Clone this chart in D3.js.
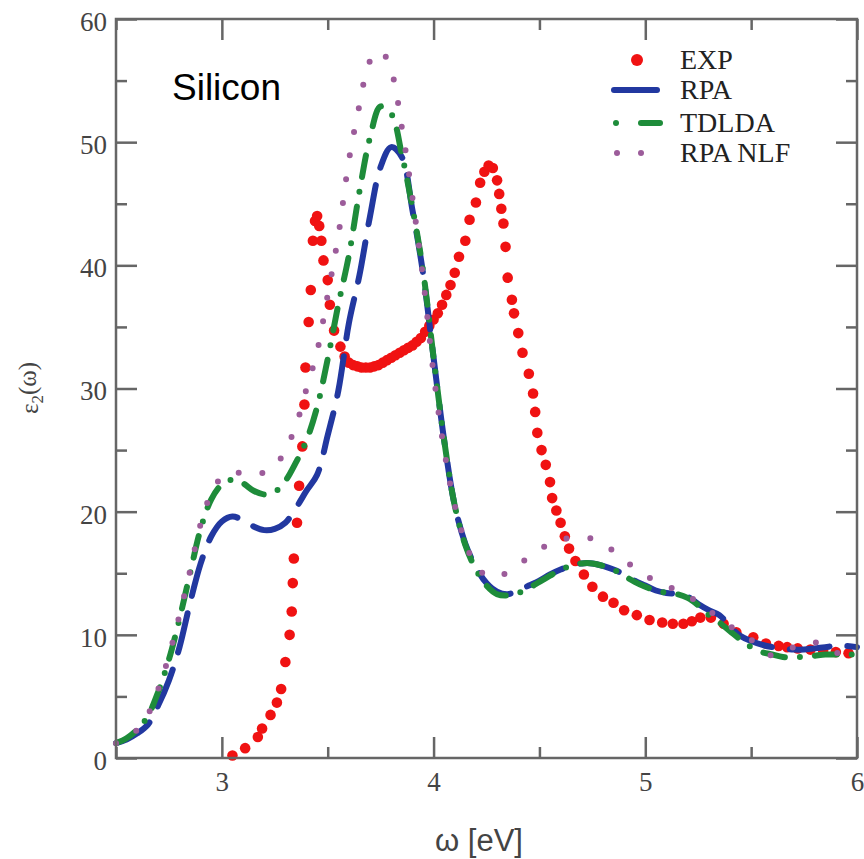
<!DOCTYPE html>
<html>
<head>
<meta charset="utf-8">
<script src="https://cdn.jsdelivr.net/npm/d3@7"></script>
<style>
  body { margin: 0; background: #fff; }
  svg { display: block; }
</style>
</head>
<body>
<svg id="chart" width="864" height="859"></svg>
<script>
// Photon energy grid (eV) shared by the three calculated spectra
const omegaGrid = [
  2.50, 2.55, 2.60, 2.65, 2.70, 2.75, 2.80, 2.85, 2.90, 2.95,
  3.00, 3.05, 3.10, 3.15, 3.20, 3.25, 3.30, 3.35, 3.40, 3.45,
  3.50, 3.55, 3.60, 3.65, 3.70, 3.75, 3.80, 3.85, 3.90, 3.95,
  4.00, 4.05, 4.10, 4.15, 4.20, 4.25, 4.30, 4.35, 4.40, 4.45,
  4.50, 4.55, 4.60, 4.65, 4.70, 4.75, 4.80, 4.85, 4.90, 4.95,
  5.00, 5.05, 5.10, 5.15, 5.20, 5.25, 5.30, 5.35, 5.40, 5.45,
  5.50, 5.55, 5.60, 5.65, 5.70, 5.75, 5.80, 5.85, 5.90, 5.95,
  6.00
];

// RPA with local fields
const rpaEps2 = [
  1.2, 1.5, 2.0, 2.7, 4.3, 6.3, 9.0, 12.6, 15.8, 18.0,
  19.2, 19.6, 19.3, 18.8, 18.5, 18.6, 19.1, 20.3, 21.7, 23.0,
  26.2, 29.8, 35.3, 39.2, 44.0, 48.0, 49.6, 48.8, 44.5, 39.4,
  32.5, 25.8, 20.5, 17.4, 15.5, 14.2, 13.5, 13.3, 13.6, 14.0,
  14.4, 14.9, 15.3, 15.6, 15.8, 15.8, 15.6, 15.3, 14.9, 14.4,
  14.0, 13.6, 13.4, 13.3, 13.1, 12.5, 12.0, 11.6, 10.7, 9.9,
  9.5, 9.2, 9.0, 8.9, 8.8, 8.8, 8.9, 9.0, 9.1, 9.1,
  9.0
];

// TDLDA
const tdldaEps2 = [
  1.2, 1.6, 2.3, 3.4, 5.4, 8.0, 11.3, 15.0, 18.6, 21.0,
  22.2, 22.6, 22.3, 21.7, 21.4, 21.6, 22.5, 24.0, 25.8, 28.5,
  32.4, 36.8, 40.8, 46.0, 50.4, 52.9, 52.3, 49.0, 44.7, 39.6,
  32.5, 25.8, 20.5, 17.3, 15.3, 14.0, 13.3, 13.2, 13.4, 13.8,
  14.3, 14.8, 15.3, 15.6, 15.8, 15.8, 15.6, 15.3, 14.8, 14.3,
  13.9, 13.6, 13.4, 13.3, 13.0, 12.4, 11.6, 11.0, 10.3, 9.6,
  9.0, 8.6, 8.4, 8.2, 8.2, 8.2, 8.3, 8.4, 8.4, 8.4,
  8.4
];

// RPA without local fields
const rpaNlfEps2 = [
  1.2, 1.6, 2.3, 3.5, 5.6, 8.3, 11.6, 15.2, 19.0, 21.5,
  22.8, 23.2, 23.1, 23.0, 23.2, 23.7, 25.0, 27.0, 30.0, 33.0,
  37.6, 42.4, 48.5, 53.0, 56.6, 57.4, 55.8, 51.2, 45.5, 39.0,
  31.2, 25.0, 20.5, 17.5, 15.6, 14.8, 14.7, 15.1, 15.7, 16.3,
  16.9, 17.4, 17.7, 17.9, 17.9, 17.8, 17.4, 16.8, 16.1, 15.4,
  14.8, 14.4, 14.0, 13.6, 13.2, 12.6, 12.0, 11.3, 10.7, 10.2,
  9.6, 8.9, 8.3, 8.6, 9.0, 9.3, 9.4, 9.1, 8.6, 8.1,
  8.0
];

// Measured spectrum: [omega (eV), eps2]
const expPoints = [
  [3.05, 0.2], [3.11, 0.8], [3.17, 1.7], [3.19, 2.4], [3.23, 3.5], [3.26, 4.5],
  [3.28, 5.6], [3.30, 7.8], [3.32, 10.0], [3.33, 11.9], [3.335, 14.2], [3.34, 16.2],
  [3.355, 19.1], [3.365, 22.1], [3.38, 25.3], [3.39, 28.7], [3.395, 31.7], [3.41, 35.4],
  [3.42, 38.0], [3.43, 42.0], [3.44, 43.6], [3.45, 44.0], [3.46, 43.2], [3.47, 42.0],
  [3.48, 40.4], [3.50, 38.8], [3.51, 36.8], [3.53, 34.7], [3.56, 33.4], [3.58, 32.6],
  [3.60, 32.1], [3.62, 31.9], [3.64, 31.8], [3.66, 31.7], [3.68, 31.7], [3.70, 31.7],
  [3.72, 31.8], [3.74, 31.9], [3.76, 32.1], [3.78, 32.3], [3.80, 32.5], [3.82, 32.7],
  [3.84, 32.9], [3.86, 33.1], [3.88, 33.3], [3.90, 33.5], [3.92, 33.8], [3.94, 34.1],
  [3.96, 34.6], [3.98, 35.1], [4.00, 35.6], [4.02, 36.1], [4.04, 36.8], [4.06, 37.6],
  [4.08, 38.4], [4.10, 39.4], [4.12, 40.7], [4.15, 42.0], [4.17, 43.7], [4.20, 45.1],
  [4.22, 46.7], [4.24, 47.6], [4.26, 48.1], [4.28, 47.9], [4.30, 46.9], [4.31, 45.8],
  [4.32, 44.6], [4.33, 43.4], [4.34, 41.5], [4.35, 39.0], [4.37, 37.2], [4.38, 36.1],
  [4.40, 34.5], [4.42, 32.9], [4.45, 31.2], [4.47, 29.6], [4.48, 28.1], [4.49, 26.4],
  [4.51, 25.0], [4.53, 23.8], [4.55, 22.4], [4.56, 21.1], [4.58, 20.1], [4.60, 19.1],
  [4.62, 18.0], [4.64, 17.0], [4.67, 16.0], [4.71, 14.9], [4.75, 13.9], [4.80, 13.1],
  [4.85, 12.6], [4.90, 12.0], [4.96, 11.6], [5.02, 11.2], [5.08, 11.0], [5.13, 10.9],
  [5.18, 10.9], [5.22, 11.1], [5.26, 11.4], [5.31, 11.4], [5.37, 10.9], [5.43, 10.2],
  [5.51, 9.8], [5.57, 9.3], [5.63, 9.1], [5.67, 9.0], [5.72, 8.9], [5.78, 8.8],
  [5.84, 8.7], [5.90, 8.6], [5.96, 8.5]
];

// Axis ticks
const xMajorTicks = [3, 4, 5, 6];
const xMinorTicks = [2.5, 3.5, 4.5, 5.5];
const yMajorTicks = [0, 10, 20, 30, 40, 50, 60];
const yMinorTicks = [5, 15, 25, 35, 45, 55];

// Legend entries
const legendLabels = ["EXP", "RPA", "TDLDA", "RPA NLF"];

const colors = {
  exp: "#f01212",
  rpa: "#2238a0",
  tdlda: "#1e8c3a",
  nlf: "#9c5c9a"
};

const svg = d3.select("#chart");
const W = 864, H = 859;
const plot = { left: 116, top: 19, right: 857, bottom: 758 };

const x = d3.scaleLinear().domain([2.5, 6]).range([plot.left, plot.right]);
const y = d3.scaleLinear().domain([0, 60]).range([plot.bottom, plot.top]);

const axisColor = "#666";
const tickFont = "'Liberation Serif', 'Times New Roman', serif";

// ---- curves ----
const line = d3.line()
  .x(d => x(d[0]))
  .y(d => y(d[1]))
  .curve(d3.curveCatmullRom.alpha(0.5));

const zipGrid = vals => omegaGrid.map((w, i) => [w, vals[i]]);

const curves = svg.append("g").attr("class", "curves");

// measured points underneath
curves.append("g")
  .selectAll("circle")
  .data(expPoints)
  .join("circle")
  .attr("cx", d => x(d[0]))
  .attr("cy", d => y(d[1]))
  .attr("r", 5.3)
  .attr("fill", colors.exp);

curves.append("path")
  .datum(zipGrid(rpaEps2))
  .attr("d", line)
  .attr("fill", "none")
  .attr("stroke", colors.rpa)
  .attr("stroke-width", 6)
  .attr("stroke-linecap", "round")
  .attr("stroke-dasharray", "40,18");

curves.append("path")
  .datum(zipGrid(tdldaEps2))
  .attr("d", line)
  .attr("fill", "none")
  .attr("stroke", colors.tdlda)
  .attr("stroke-width", 6)
  .attr("stroke-linecap", "round")
  .attr("stroke-dasharray", "22,15,0,15");

curves.append("path")
  .datum(zipGrid(rpaNlfEps2))
  .attr("d", line)
  .attr("fill", "none")
  .attr("stroke", colors.nlf)
  .attr("stroke-width", 6)
  .attr("stroke-linecap", "round")
  .attr("stroke-dasharray", "0,24");

// ---- axes (ticks point inward on all four sides) ----
function styleAxis(g) {
  g.select(".domain").remove();
  g.selectAll(".tick line").attr("stroke", axisColor).attr("stroke-width", 2.5);
  g.selectAll(".tick text")
    .attr("fill", "#444")
    .style("font-family", tickFont)
    .style("font-size", "27px");
}

const axes = svg.append("g").attr("class", "axes");

axes.append("g")
  .attr("transform", `translate(0,${plot.bottom})`)
  .call(d3.axisBottom(x).tickValues(xMajorTicks).tickSize(-21).tickSizeOuter(0)
    .tickPadding(14).tickFormat(d3.format("d")))
  .call(styleAxis);
axes.append("g")
  .attr("transform", `translate(0,${plot.bottom})`)
  .call(d3.axisBottom(x).tickValues(xMinorTicks).tickSize(-11).tickSizeOuter(0).tickFormat(""))
  .call(styleAxis);
axes.append("g")
  .attr("transform", `translate(0,${plot.top})`)
  .call(d3.axisTop(x).tickValues(xMajorTicks).tickSize(-21).tickSizeOuter(0).tickFormat(""))
  .call(styleAxis);
axes.append("g")
  .attr("transform", `translate(0,${plot.top})`)
  .call(d3.axisTop(x).tickValues(xMinorTicks).tickSize(-11).tickSizeOuter(0).tickFormat(""))
  .call(styleAxis);

axes.append("g")
  .attr("transform", `translate(${plot.left},0)`)
  .call(d3.axisLeft(y).tickValues(yMajorTicks).tickSize(-21).tickSizeOuter(0)
    .tickPadding(9).tickFormat(d3.format("d")))
  .call(styleAxis)
  .call(g => g.selectAll(".tick text").attr("dy", "0.42em"));
axes.append("g")
  .attr("transform", `translate(${plot.left},0)`)
  .call(d3.axisLeft(y).tickValues(yMinorTicks).tickSize(-11).tickSizeOuter(0).tickFormat(""))
  .call(styleAxis);
axes.append("g")
  .attr("transform", `translate(${plot.right},0)`)
  .call(d3.axisRight(y).tickValues(yMajorTicks).tickSize(-21).tickSizeOuter(0).tickFormat(""))
  .call(styleAxis);
axes.append("g")
  .attr("transform", `translate(${plot.right},0)`)
  .call(d3.axisRight(y).tickValues(yMinorTicks).tickSize(-11).tickSizeOuter(0).tickFormat(""))
  .call(styleAxis);

// frame
axes.append("rect")
  .attr("x", plot.left)
  .attr("y", plot.top)
  .attr("width", plot.right - plot.left)
  .attr("height", plot.bottom - plot.top)
  .attr("fill", "none")
  .attr("stroke", axisColor)
  .attr("stroke-width", 2.5);

// ---- axis titles ----
svg.append("text")
  .attr("x", 479)
  .attr("y", 851)
  .attr("text-anchor", "middle")
  .attr("fill", "#444")
  .style("font-family", "'Liberation Sans', Arial, sans-serif")
  .style("font-size", "31px")
  .text("ω [eV]");

const yTitle = svg.append("text")
  .attr("transform", "translate(38,388) rotate(-90)")
  .attr("text-anchor", "middle")
  .attr("fill", "#444")
  .style("font-family", tickFont)
  .style("font-size", "25px");
yTitle.append("tspan").text("ε");
yTitle.append("tspan").attr("dy", "0.3em").style("font-size", "17px").text("2");
yTitle.append("tspan").attr("dy", "-0.3em").text("(ω)");

// ---- annotation ----
svg.append("text")
  .attr("x", 172)
  .attr("y", 100)
  .attr("fill", "#000")
  .style("font-family", "'Liberation Sans', Arial, sans-serif")
  .style("font-size", "37px")
  .text("Silicon");

// ---- legend ----
const legend = svg.append("g").attr("class", "legend");
const legendRows = [60, 90, 123, 153];
const legendTextX = 680;

legend.selectAll("text")
  .data(legendLabels)
  .join("text")
  .attr("x", legendTextX)
  .attr("y", (d, i) => legendRows[i] + 9)
  .attr("fill", "#222")
  .style("font-family", tickFont)
  .style("font-size", "28px")
  .text(d => d);

// EXP marker
legend.append("circle")
  .attr("cx", 637).attr("cy", legendRows[0]).attr("r", 6)
  .attr("fill", colors.exp);
// RPA sample
legend.append("line")
  .attr("x1", 614).attr("x2", 657)
  .attr("y1", legendRows[1]).attr("y2", legendRows[1])
  .attr("stroke", colors.rpa).attr("stroke-width", 6).attr("stroke-linecap", "round");
// TDLDA sample: dot then dash
legend.append("circle")
  .attr("cx", 616).attr("cy", legendRows[2]).attr("r", 3)
  .attr("fill", colors.tdlda);
legend.append("line")
  .attr("x1", 641).attr("x2", 660)
  .attr("y1", legendRows[2]).attr("y2", legendRows[2])
  .attr("stroke", colors.tdlda).attr("stroke-width", 6).attr("stroke-linecap", "round");
// RPA NLF sample: dots
legend.selectAll("circle.nlf")
  .data([617, 641])
  .join("circle")
  .attr("class", "nlf")
  .attr("cx", d => d).attr("cy", legendRows[3]).attr("r", 3)
  .attr("fill", colors.nlf);
</script>
</body>
</html>
